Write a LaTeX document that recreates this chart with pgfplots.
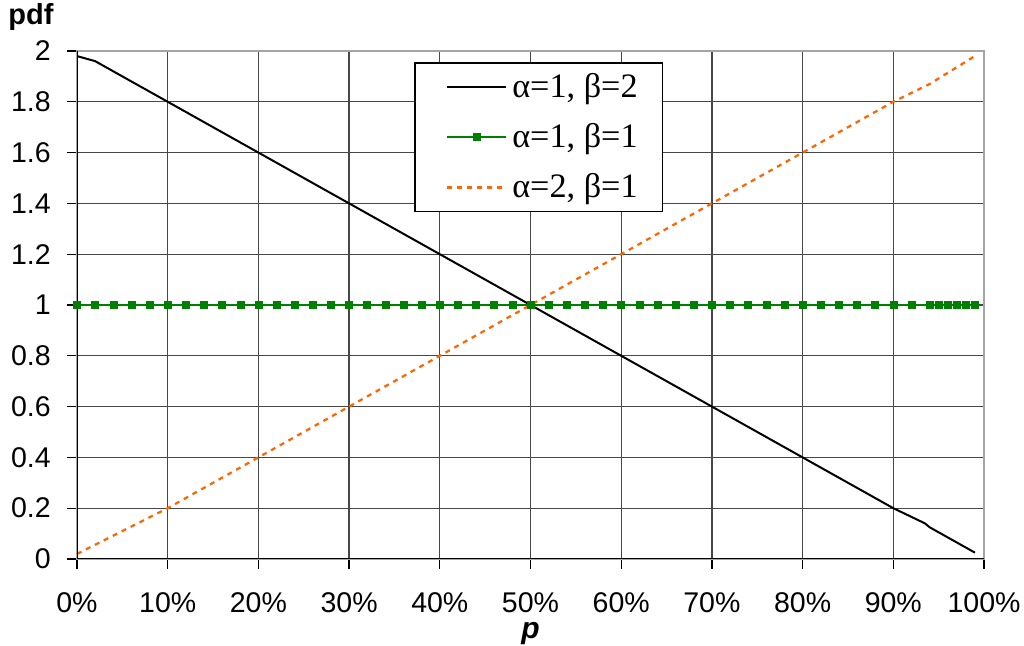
\documentclass[border=0pt]{standalone}
\usepackage{pgfplots}
\pgfplotsset{compat=1.18}
\usepackage{fontspec}
\setmainfont{Liberation Sans}
\newfontfamily\legfont{Liberation Serif}
\definecolor{exgreen}{RGB}{0,128,0}
\definecolor{exorange}{RGB}{255,102,0}
\definecolor{bordergray}{RGB}{165,165,165}
\begin{document}
\begin{tikzpicture}
\begin{axis}[
  scale only axis,
  width=362.8pt, height=203.2pt,
  xmin=0, xmax=1, ymin=0, ymax=2,
  xtick={0,0.1,0.2,0.3,0.4,0.5,0.6,0.7,0.8,0.9,1},
  xticklabels={0\%,10\%,20\%,30\%,40\%,50\%,60\%,70\%,80\%,90\%,100\%},
  ytick={0,0.2,0.4,0.6,0.8,1,1.2,1.4,1.6,1.8,2},
  yticklabels={0,0.2,0.4,0.6,0.8,1,1.2,1.4,1.6,1.8,2},
  /pgf/number format/assume math mode=true,
  tick label style={font=\fontsize{11.4}{13}\selectfont},
  xticklabel style={yshift=-6pt, inner xsep=0pt},
  yticklabel style={xshift=-3pt},
  tick pos=left,
  tick align=outside,
  major tick length=4pt,
  tick style={black, line width=0.5pt},
  grid=major,
  grid style={black!72, line width=0.5pt},
  axis line style={bordergray, line width=0.8pt},
  xlabel={\textbf{\textit{p}}},
  ylabel={\textbf{pdf}},
  every axis x label/.style={at={(axis description cs:0.5,0)}, anchor=center, inner sep=0pt, yshift=-30pt, font=\fontsize{12}{14}\selectfont},
  every axis y label/.style={at={(axis description cs:0,1)}, anchor=center, inner sep=0pt, xshift=-18.4pt, yshift=13.6pt, font=\fontsize{11.6}{14}\selectfont},
  legend style={
    at={(axis description cs:0.3716,0.978)},
    anchor=north west,
    draw=black, line width=0.6pt, fill=white,
    font=\legfont\fontsize{13.7}{15}\selectfont,
    inner xsep=8pt, inner ysep=2pt,
    row sep=5pt,
    cells={anchor=west}
  },
  legend image code/.code={\path (0pt,0pt); \draw[mark repeat=2,mark phase=2,#1] plot coordinates {(4.4pt,0pt) (16.2pt,0pt) (28pt,0pt)};},
]

% alpha=1, beta=2
\addplot[black, line width=0.8pt] coordinates {
  (0,1.98) (0.02,1.96) (0.05,1.9) (0.1,1.8) (0.2,1.6) (0.3,1.4) (0.4,1.2)
  (0.5,1.0) (0.6,0.8) (0.7,0.6) (0.8,0.4) (0.9,0.2) (0.935,0.14) (0.94,0.125)
  (0.97,0.065) (0.99,0.025)
};
\addlegendentry{α=1, β=2}

% alpha=1, beta=1
\addplot[exgreen, line width=1pt, mark=square*, mark size=1.4pt, mark options={line width=0.2pt}] coordinates {
  (0,1) (0.02,1) (0.04,1) (0.06,1) (0.08,1) (0.1,1) (0.12,1) (0.14,1) (0.16,1)
  (0.18,1) (0.2,1) (0.22,1) (0.24,1) (0.26,1) (0.28,1) (0.3,1) (0.32,1) (0.34,1)
  (0.36,1) (0.38,1) (0.4,1) (0.42,1) (0.44,1) (0.46,1) (0.48,1) (0.5,1) (0.52,1)
  (0.54,1) (0.56,1) (0.58,1) (0.6,1) (0.62,1) (0.64,1) (0.66,1) (0.68,1) (0.7,1)
  (0.72,1) (0.74,1) (0.76,1) (0.78,1) (0.8,1) (0.82,1) (0.84,1) (0.86,1) (0.88,1)
  (0.9,1) (0.92,1) (0.94,1) (0.95,1) (0.96,1) (0.97,1) (0.98,1) (0.99,1)
};
\addlegendentry{α=1, β=1}

% alpha=2, beta=1
\addplot[exorange, line width=0.9pt, dash pattern=on 2pt off 2pt] coordinates {
  (0,0.02) (0.1,0.2) (0.2,0.4) (0.3,0.6) (0.4,0.8) (0.5,1.0) (0.6,1.2)
  (0.7,1.4) (0.8,1.6) (0.9,1.8) (0.94,1.87) (0.99,1.98)
};
\addlegendentry{α=2, β=1}

\draw[black, line width=0.7pt] (rel axis cs:0,1) -- (rel axis cs:0,0) -- (rel axis cs:1,0);
\end{axis}
\path (current axis.south west) ++(-30.8pt,-34.8pt) rectangle ([xshift=16pt,yshift=20.4pt]current axis.north east);
\end{tikzpicture}
\end{document}
